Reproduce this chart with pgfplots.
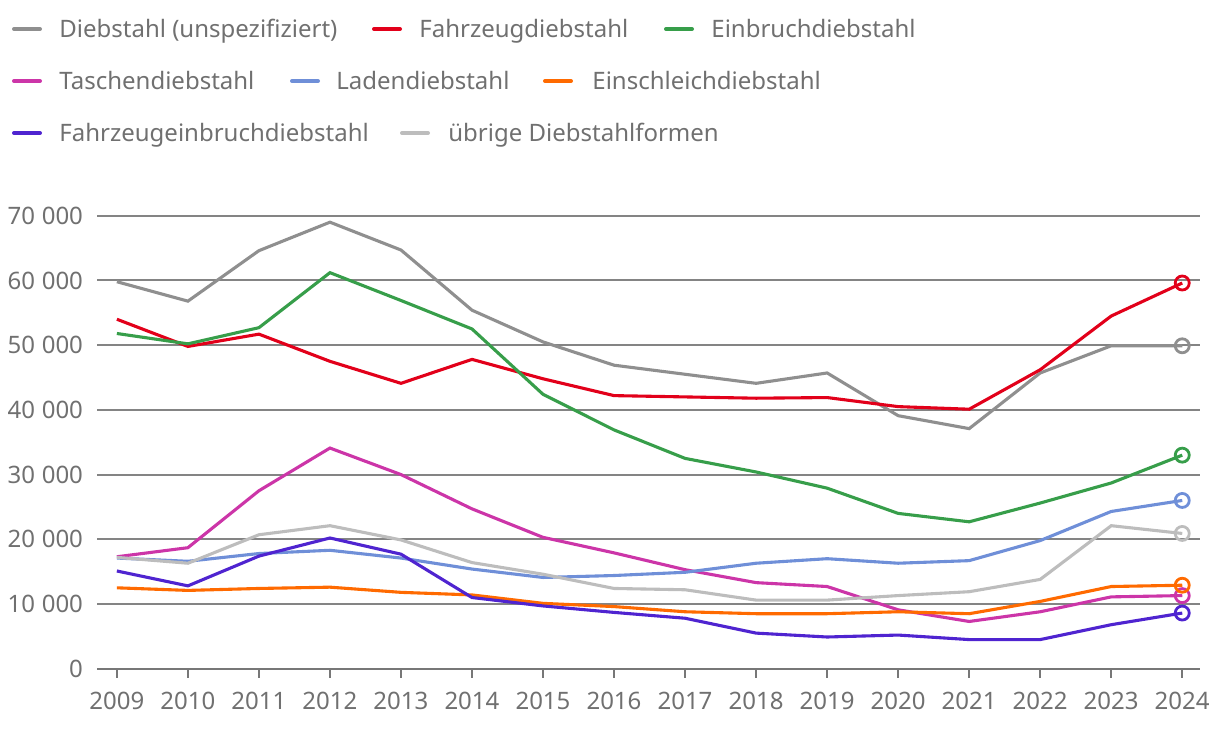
\documentclass[border=0pt]{standalone}
\usepackage{fontspec}
\setmainfont{Noto Sans}
\usepackage{pgfplots}
\pgfplotsset{compat=1.18}
\usepackage{pgfplotstable}

\definecolor{cgray}{HTML}{8F8F8F}
\definecolor{cred}{HTML}{E2001A}
\definecolor{cgreen}{HTML}{379E4A}
\definecolor{cmag}{HTML}{CC35A8}
\definecolor{cblue}{HTML}{6F8FD8}
\definecolor{corange}{HTML}{FF6A00}
\definecolor{cpurple}{HTML}{4F24D0}
\definecolor{clgray}{HTML}{BDBDBD}
\definecolor{ctext}{HTML}{707070}
\definecolor{cgrid}{HTML}{848484}

% Diebstahlformen 2009-2024
\pgfplotstableread{
year  unsp  fahrz  einbr  tasch  laden  einschl  fzeinbr  uebrig
2009  59800 54000  51800  17300  17100  12500    15100    17200
2010  56800 49800  50200  18700  16600  12100    12800    16300
2011  64600 51700  52700  27500  17800  12400    17400    20700
2012  69000 47500  61200  34100  18300  12600    20200    22100
2013  64700 44100  56900  30000  17100  11800    17700    19900
2014  55400 47800  52500  24700  15400  11400    11000    16400
2015  50500 44800  42400  20300  14100  10100    9700     14600
2016  46900 42200  36900  17900  14400  9600     8700     12400
2017  45500 42000  32500  15300  14900  8800     7800     12200
2018  44100 41800  30400  13300  16300  8500     5500     10600
2019  45700 41900  27900  12700  17000  8500     4900     10600
2020  39100 40500  24000  9100   16300  8800     5200     11300
2021  37100 40100  22700  7300   16700  8500     4500     11900
2022  45700 46200  25600  8800   19800  10400    4500     13800
2023  49900 54500  28700  11100  24300  12700    6800     22100
2024  49900 59600  33000  11300  26000  12900    8600     20900
}\data

\begin{document}
\begin{tikzpicture}[font=\fontsize{12}{14}\selectfont]
\path[use as bounding box] (0,0) rectangle (610pt,368pt);

% legend (flow layout): line 15pt long, text 8.5pt after it
\tikzset{leg/.style={line width=2pt, line cap=round},
         legt/.style={anchor=base west, inner sep=0pt, text=ctext, yshift=-4.2pt}}
\draw[leg,cgray]   (7pt,353.5pt) -- (20pt,353.5pt);
\node[legt] at (29.5pt,353.5pt) {Diebstahl (unspezifiziert)};
\draw[leg,cred]    (187pt,353.5pt) -- (200pt,353.5pt);
\node[legt] at (209.5pt,353.5pt) {Fahrzeugdiebstahl};
\draw[leg,cgreen]  (333pt,353.5pt) -- (346pt,353.5pt);
\node[legt] at (355.5pt,353.5pt) {Einbruchdiebstahl};

\draw[leg,cmag]    (7pt,327.5pt) -- (20pt,327.5pt);
\node[legt] at (29.5pt,327.5pt) {Taschendiebstahl};
\draw[leg,cblue]   (146pt,327.5pt) -- (159pt,327.5pt);
\node[legt] at (168pt,327.5pt) {Ladendiebstahl};
\draw[leg,corange] (272.5pt,327.5pt) -- (285.5pt,327.5pt);
\node[legt] at (296pt,327.5pt) {Einschleichdiebstahl};

\draw[leg,cpurple] (7pt,301.5pt) -- (20pt,301.5pt);
\node[legt] at (29.5pt,301.5pt) {Fahrzeugeinbruchdiebstahl};
\draw[leg,clgray]  (201pt,301.5pt) -- (214pt,301.5pt);
\node[legt] at (224pt,301.5pt) {übrige Diebstahlformen};

\begin{axis}[
    at={(48.5pt,33.65pt)}, anchor=south west,
    scale only axis,
    width=551.5pt, height=226.5pt,
    xmin=2008.72, xmax=2024.25,
    ymin=0, ymax=70000,
    xtick={2009,...,2024},
    ytick={0,10000,...,70000},
    axis x line*=bottom,
    axis y line*=left,
    x axis line style={-, draw=cgrid!90!black, line width=1pt},
    y axis line style={draw=none},
    ytick style={draw=none},
    xtick style={draw=cgrid!90!black, line width=1pt},
    tick align=outside,
    major tick length=4.5pt,
    ymajorgrids,
    grid style={cgrid, line width=1pt},
    tick label style={text=ctext, font=\fontsize{12}{14}\selectfont},
    /pgf/number format/assume math mode=true,
    xticklabel style={/pgf/number format/1000 sep=, yshift=-3.5pt},
    yticklabel style={/pgf/number format/1000 sep={\hspace{0.28em}}, xshift=1pt},
    scaled y ticks=false,
    clip=false,
    every axis plot/.append style={line width=1.55pt, mark=o, mark indices={16},
        mark size=3.5pt, mark options={fill=white, line width=1.4pt}},
]
\addplot[cgray]   table[x=year, y=unsp]    {\data};
\addplot[cred]    table[x=year, y=fahrz]   {\data};
\addplot[cgreen]  table[x=year, y=einbr]   {\data};
\addplot[cmag]    table[x=year, y=tasch]   {\data};
\addplot[cblue]   table[x=year, y=laden]   {\data};
\addplot[corange] table[x=year, y=einschl] {\data};
\addplot[cpurple] table[x=year, y=fzeinbr] {\data};
\addplot[clgray]  table[x=year, y=uebrig]  {\data};
\end{axis}
\end{tikzpicture}
\end{document}
